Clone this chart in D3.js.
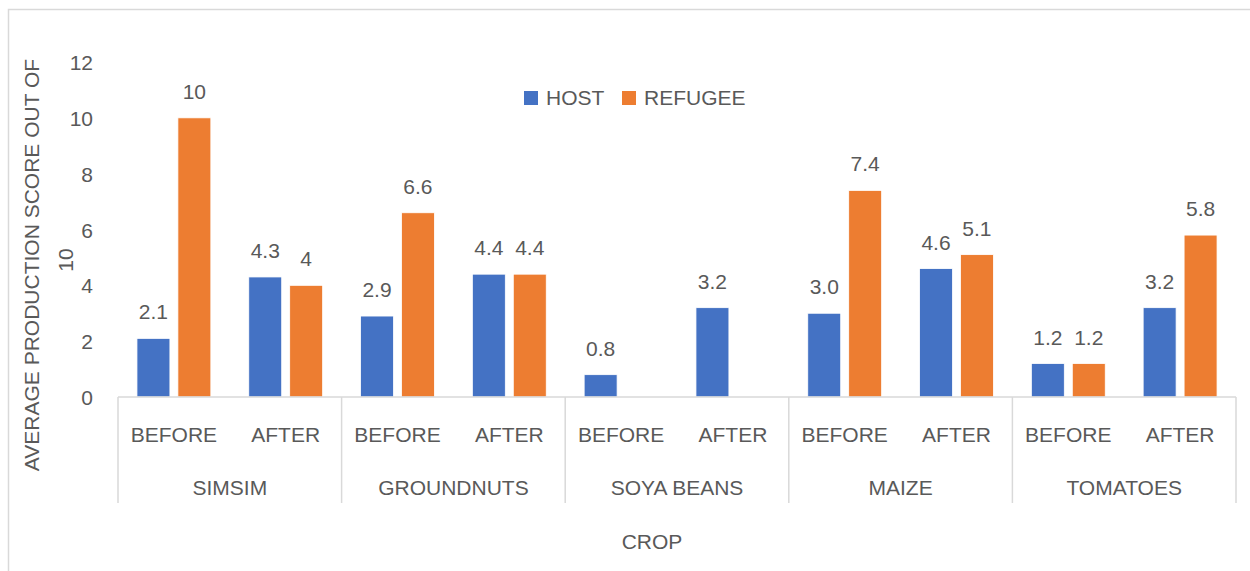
<!DOCTYPE html>
<html>
<head>
<meta charset="utf-8">
<script src="https://cdn.jsdelivr.net/npm/d3@7/dist/d3.min.js"></script>
<style>
  html, body { margin: 0; padding: 0; background: #fff; }
  svg { display: block; font-family: "Liberation Sans", Arial, sans-serif; }
  text { fill: #595959; }
</style>
</head>
<body>
<svg id="chart" width="1250" height="571"></svg>
<script>
// ---- data ----
const crops = ["SIMSIM", "GROUNDNUTS", "SOYA BEANS", "MAIZE", "TOMATOES"];
const phases = ["BEFORE", "AFTER"];
const seriesNames = ["HOST", "REFUGEE"];
// values in order crop x phase (BEFORE, AFTER)
const hostValues    = [2.1, 4.3, 2.9, 4.4, 0.8, 3.2, 3.0, 4.6, 1.2, 3.2];
const refugeeValues = [10, 4, 6.6, 4.4, null, null, 7.4, 5.1, 1.2, 5.8];
const hostLabels    = ["2.1", "4.3", "2.9", "4.4", "0.8", "3.2", "3.0", "4.6", "1.2", "3.2"];
const refugeeLabels = ["10", "4", "6.6", "4.4", "", "", "7.4", "5.1", "1.2", "5.8"];
const yTicks = [0, 2, 4, 6, 8, 10, 12];
const colors = ["#4472C4", "#ED7D31"];

// ---- layout ----
const FS = 21;
const svg = d3.select("#chart");
const W = 1250, H = 571;
const plot = { left: 118, right: 1236, top: 62, bottom: 397 };

// outer frame
svg.append("rect")
  .attr("x", 8.5).attr("y", 9.5)
  .attr("width", W + 10).attr("height", H + 10)
  .attr("fill", "none").attr("stroke", "#d9d9d9").attr("stroke-width", 1.5);

const x0 = d3.scaleBand().domain(crops).range([plot.left, plot.right]).padding(0);
const x1 = d3.scaleBand().domain(phases).range([0, x0.bandwidth()]).padding(0);
const x2 = d3.scaleBand().domain(seriesNames).range([0, x1.bandwidth()])
  .paddingInner(0.195).paddingOuter(0.463);
const y = d3.scaleLinear().domain([0, 12]).range([plot.bottom, plot.top]);

// build rows
const rows = [];
crops.forEach((c, ci) => {
  phases.forEach((p, pi) => {
    const i = ci * phases.length + pi;
    rows.push({ crop: c, phase: p, series: "HOST", value: hostValues[i], label: hostLabels[i], color: colors[0] });
    rows.push({ crop: c, phase: p, series: "REFUGEE", value: refugeeValues[i], label: refugeeLabels[i], color: colors[1] });
  });
});
const barX = d => x0(d.crop) + x1(d.phase) + x2(d.series);

// y axis tick labels
const yAxis = d3.axisLeft(y).tickValues(yTicks).tickSize(0).tickPadding(0);
const yg = svg.append("g").attr("transform", "translate(93,0)").call(yAxis);
yg.select(".domain").remove();
yg.selectAll("text").attr("font-size", FS).attr("fill", "#595959")
  .attr("font-family", "Liberation Sans, Arial, sans-serif").attr("dy", "0.36em");

// bars
const valid = rows.filter(d => d.value !== null);
svg.append("g").selectAll("rect").data(valid).join("rect")
  .attr("x", barX)
  .attr("y", d => y(d.value))
  .attr("width", x2.bandwidth())
  .attr("height", d => y(0) - y(d.value))
  .attr("fill", d => d.color)
  .attr("stroke", "#fff").attr("stroke-width", 0.8);

// data labels
svg.append("g").selectAll("text").data(valid).join("text")
  .attr("x", d => barX(d) + x2.bandwidth() / 2)
  .attr("y", d => y(d.value) - 19)
  .attr("text-anchor", "middle")
  .attr("font-size", FS)
  .text(d => d.label);

// category axis (multi-level)
const axisColor = "#d9d9d9";
svg.append("line")
  .attr("x1", plot.left).attr("x2", plot.right)
  .attr("y1", plot.bottom).attr("y2", plot.bottom)
  .attr("stroke", axisColor).attr("stroke-width", 1.5);

const bounds = crops.map(c => x0(c)).concat([plot.right]);
svg.append("g").selectAll("line").data(bounds).join("line")
  .attr("x1", d => d).attr("x2", d => d)
  .attr("y1", plot.bottom).attr("y2", 503)
  .attr("stroke", axisColor).attr("stroke-width", 1.5);

const sub = [];
crops.forEach(c => phases.forEach(p => sub.push({ crop: c, phase: p })));
svg.append("g").selectAll("text").data(sub).join("text")
  .attr("x", d => x0(d.crop) + x1(d.phase) + x1.bandwidth() / 2)
  .attr("y", 442)
  .attr("text-anchor", "middle")
  .attr("font-size", FS)
  .text(d => d.phase);

svg.append("g").selectAll("text").data(crops).join("text")
  .attr("x", d => x0(d) + x0.bandwidth() / 2)
  .attr("y", 495)
  .attr("text-anchor", "middle")
  .attr("font-size", FS)
  .text(d => d);

// axis titles
svg.append("text")
  .attr("x", 652).attr("y", 549)
  .attr("text-anchor", "middle").attr("font-size", FS)
  .text("CROP");

const yt = svg.append("text")
  .attr("transform", "translate(31,265) rotate(-90)")
  .attr("text-anchor", "middle").attr("font-size", FS);
yt.append("tspan").attr("x", 0).attr("dy", "0.36em").text("AVERAGE PRODUCTION SCORE OUT OF");
yt.append("tspan").attr("x", 5).attr("dy", 34).text("10");

// legend
const legendX = [524, 622];
const lg = svg.append("g").selectAll("g").data(seriesNames).join("g")
  .attr("transform", (d, i) => `translate(${legendX[i]},91)`);
lg.append("rect").attr("width", 14).attr("height", 14).attr("fill", (d, i) => colors[i]);
lg.append("text").attr("x", 22).attr("y", 14).attr("font-size", FS).text(d => d);
</script>
</body>
</html>
